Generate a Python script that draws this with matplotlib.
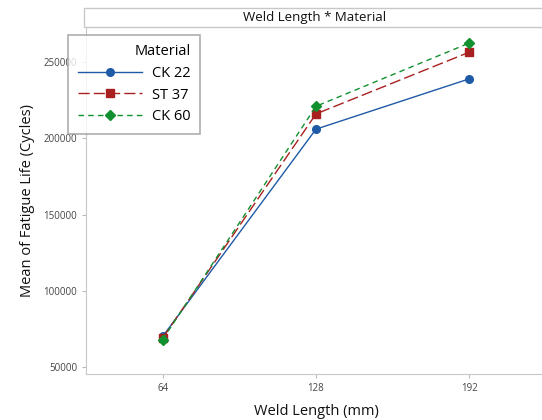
import matplotlib
matplotlib.use('Agg')
import matplotlib.pyplot as plt
from matplotlib.patches import Rectangle

plt.rcParams['font.family'] = ['Open Sans', 'DejaVu Sans']

# data
weld_length = [64, 128, 192]
ck22 = [70000, 206000, 239000]
st37 = [69000, 216000, 256500]
ck60 = [68000, 221000, 262500]

fig = plt.figure(figsize=(5.42, 4.2), dpi=100)
ax = fig.add_axes([86 / 542, 46 / 420, 460 / 542, 347 / 420])

ax.plot(weld_length, ck22, color='#1f5aa6', ls='-', lw=1.0, marker='o', ms=5.5, label='CK 22')
ax.plot(weld_length, st37, color='#a8201f', ls=(0, (8, 3)), lw=1.0, marker='s', ms=5.5, label='ST 37')
ax.plot(weld_length, ck60, color='#11902f', ls=(0, (4, 3)), lw=1.0, marker='D', ms=5.5, label='CK 60')

ax.set_xlim(32, 224)
ax.set_ylim(45400, 273000)
ax.set_xticks(weld_length)
ax.set_yticks([50000, 100000, 150000, 200000, 250000])
ax.tick_params(labelsize=7, length=3, color='#bbbbbb', labelcolor='#444444')

for side in ['top', 'right']:
    ax.spines[side].set_visible(False)
for side in ['left', 'bottom']:
    ax.spines[side].set_color('#c8c8c8')

ax.set_xlabel('Weld Length (mm)', fontsize=10.5, color='#111111', labelpad=7)
ax.set_ylabel('Mean of Fatigue Life (Cycles)', fontsize=10.5, color='#111111', labelpad=6)

# header strip above the panel
fig.patches.append(Rectangle((84 / 542, 393 / 420), 460 / 542, 19 / 420,
                             transform=fig.transFigure, facecolor='white',
                             edgecolor='#c8c8c8', lw=1.0))
fig.text(315 / 542, 402 / 420, 'Weld Length * Material', ha='center', va='center',
         fontsize=9.5, color='#111111')

leg = ax.legend(title='Material', loc='upper left', bbox_to_anchor=(-0.039, 0.977),
                fontsize=10.5, title_fontsize=10.5, frameon=True, fancybox=False,
                handlelength=4.4, borderpad=0.65, labelspacing=0.45, handletextpad=0.7,
                borderaxespad=0)
leg.get_frame().set_edgecolor('#999999')
leg.get_frame().set_linewidth(1.2)
leg._legend_box.align = 'right'

fig.savefig('out.png', dpi=100)
